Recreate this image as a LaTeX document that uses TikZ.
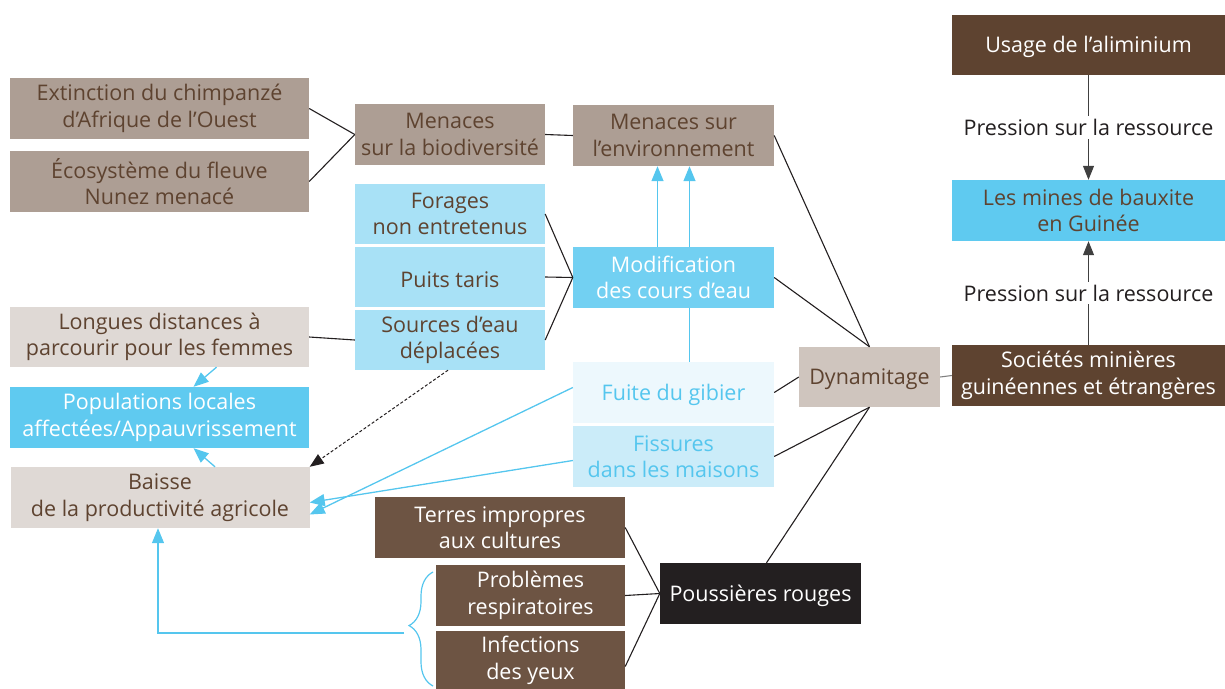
\documentclass[tikz,border=0pt]{standalone}
\usepackage{fontspec}
\setmainfont{Open Sans}
\usepackage{tikz}
\usepackage{xcolor}
\usetikzlibrary{arrows.meta,decorations.pathreplacing,backgrounds}
\definecolor{darkbrown}{HTML}{5E4330}
\definecolor{midbrown}{HTML}{6D5443}
\definecolor{taupe}{HTML}{AD9E94}
\definecolor{sand}{HTML}{DFD9D5}
\definecolor{dynagrey}{HTML}{CFC5BE}
\definecolor{skyblue}{HTML}{5FCAF0}
\definecolor{modifblue}{HTML}{72D0F2}
\definecolor{paleblue}{HTML}{A8E1F6}
\definecolor{fissblue}{HTML}{CBECF9}
\definecolor{fuiteblue}{HTML}{EDF8FD}
\definecolor{lineblue}{HTML}{55C6EE}
\definecolor{nearblack}{HTML}{231F20}
\newcommand\boxfont{\fontsize{21.5}{26.5}\selectfont}
\tikzset{
    base-box/.style = {rectangle, inner sep=0pt, minimum height=61pt, align=center, font=\boxfont,
        execute at begin node={\rule{0pt}{21pt}}},
    dark-box/.style = {base-box, fill=darkbrown, text=white},
    brown-box/.style = {base-box, fill=midbrown, text=white},
    taupe-box/.style = {base-box, fill=taupe, text=darkbrown},
    sand-box/.style = {base-box, fill=sand, text=darkbrown},
    sky-box/.style = {base-box, fill=skyblue, text=white},
    pale-box/.style = {base-box, fill=paleblue, text=darkbrown},
    link/.style = {nearblack, line width=1.1pt},
    blue-arrow/.style = {lineblue, line width=1.3pt, -{Triangle[length=15pt,width=12pt]}},
    press-label/.style = {fill=white, text=nearblack, font=\boxfont, inner sep=3pt},
}
\begin{document}
\begin{tikzpicture}[x=1pt,y=-1pt]
\useasboundingbox (0,0) rectangle (1225,688);

\node [dark-box, minimum width=273pt, minimum height=60pt] (usage) at (1088.5,45) {Usage de l’aliminium};
\node [base-box, fill=skyblue, text=darkbrown, minimum width=273pt] (mines) at (1088.5,210.5) {Les mines de bauxite\\en Guinée};
\node [dark-box, minimum width=273pt] (societes) at (1088.5,375.5) {Sociétés minières\\guinéennes et étrangères};
\node [base-box, fill=dynagrey, text=darkbrown, minimum width=141pt, minimum height=60pt] (dyna) at (869.5,377) {Dynamitage};

\node [taupe-box, minimum width=201pt] (menv) at (673.5,135.5) {Menaces sur\\l’environnement};
\node [base-box, fill=modifblue, text=white, minimum width=201pt] (modif) at (673.5,277.5) {Modification\\des cours d’eau};
\node [base-box, fill=fuiteblue, text=lineblue, minimum width=201pt] (fuite) at (673.5,392.5) {Fuite du gibier};
\node [base-box, fill=fissblue, text=lineblue, minimum width=201pt] (fissures) at (673.5,456.5) {Fissures\\dans les maisons};
\node [base-box, fill=nearblack, text=white, minimum width=201pt] (pouss) at (760.5,593.5) {Poussières rouges};

\node [brown-box, minimum width=250pt] (terres) at (500,527.5) {Terres impropres\\aux cultures};
\node [brown-box, minimum width=189pt] (probl) at (530.5,595.5) {Problèmes\\respiratoires};
\node [brown-box, minimum width=189pt, minimum height=59pt] (infect) at (530.5,660.5) {Infections\\des yeux};

\node [taupe-box, minimum width=190pt] (mbio) at (450,134.5) {Menaces\\sur la biodiversité};
\node [pale-box, minimum width=190pt, minimum height=60pt] (forages) at (450,214) {Forages\\non entretenus};
\node [pale-box, minimum width=190pt, minimum height=60pt] (puits) at (450,277) {Puits taris};
\node [pale-box, minimum width=190pt, minimum height=60pt] (sources) at (450,340) {Sources d’eau\\déplacées};

\node [taupe-box, minimum width=299pt] (extinct) at (159.5,108.5) {Extinction du chimpanzé\\d’Afrique de l’Ouest};
\node [taupe-box, minimum width=299pt] (ecosys) at (159.5,181.5) {Écosystème du fleuve\\Nunez menacé};
\node [sand-box, minimum width=299pt, minimum height=60pt] (longues) at (159.5,337) {Longues distances à\\parcourir pour les femmes};
\node [sky-box, minimum width=299pt] (popul) at (159.5,417.5) {Populations locales\\affectées/Appauvrissement};
\node [sand-box, minimum width=299pt] (baisse) at (160,497.5) {Baisse\\de la productivité agricole};

\coordinate (brace-top) at (433,572);
\coordinate (brace-bottom) at (433,686);
\coordinate (brace-tip) at (404,633);

\draw [link] (extinct.east) -- (mbio.west);
\draw [link] (ecosys.east) -- (mbio.west);
\draw [link] (mbio.east) -- (menv.west);
\draw [link] (forages.east) -- (modif.west);
\draw [link] (puits.east) -- (modif.west);
\draw [link] (sources.east) -- (modif.west);
\draw [link] (longues.east) -- (sources.west);
\draw [link] (menv.east) -- (dyna.north);
\draw [link] (modif.east) -- (dyna.north);
\draw [link] (fuite.east) -- (dyna.west);
\draw [link] (fissures.east) -- (dyna.south);
\draw [link] ([xshift=6pt]pouss.north) -- (dyna.south);
\draw [link, draw=gray] (dyna.east) -- (societes.west);
\draw [link] (terres.east) -- (pouss.west);
\draw [link] (probl.east) -- (pouss.west);
\draw [link] ([yshift=-6pt]infect.east) -- (pouss.west);

\draw [link, draw=darkgray, -{Triangle[length=14pt,width=11pt]}] (usage.south) -- node [press-label] {Pression sur la ressource} (mines.north);
\draw [link, draw=darkgray, -{Triangle[length=14pt,width=11pt]}] (societes.north) -- node [press-label] {Pression sur la ressource} (mines.south);

\draw [blue-arrow] ([xshift=-16pt]modif.north) -- ([xshift=-16pt]menv.south);
\begin{scope}[on background layer]
\draw [blue-arrow] ([xshift=16pt]fuite.north) -- ([xshift=16pt]menv.south);
\end{scope}
\draw [blue-arrow] ([xshift=55pt]baisse.north) -- ([xshift=34pt]popul.south);
\draw [blue-arrow] ([xshift=57pt]longues.south) -- ([xshift=34pt]popul.north);
\draw [nearblack, line width=1pt, densely dashed, -{Triangle[length=14pt,width=11pt]}] ([xshift=-2pt]sources.south) -- (baisse.north east);
\draw [blue-arrow] ([yshift=5pt]fuite.west) -- ([yshift=-17pt]baisse.east);
\draw [blue-arrow] ([yshift=-4pt]fissures.west) -- ([yshift=-5pt]baisse.east);
\draw [lineblue, line width=1.2pt, decorate, decoration={brace, amplitude=24pt, aspect=0.53}] (brace-bottom) -- (brace-top);
\draw [blue-arrow] (brace-tip) -| ([xshift=-2pt]baisse.south);
\end{tikzpicture}
\end{document}
